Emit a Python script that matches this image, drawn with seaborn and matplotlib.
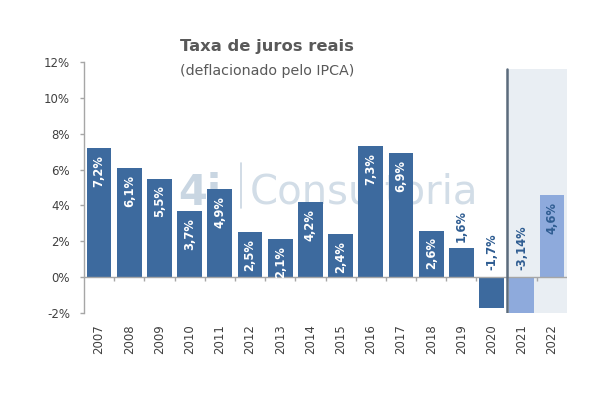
import numpy as np
import pandas as pd
import matplotlib
matplotlib.use("Agg")
import matplotlib.pyplot as plt
import seaborn as sns

years = ['2007', '2008', '2009', '2010', '2011', '2012', '2013', '2014',
         '2015', '2016', '2017', '2018', '2019', '2020', '2021', '2022']
values = [7.2, 6.1, 5.5, 3.7, 4.9, 2.5, 2.1, 4.2, 2.4, 7.3, 6.9, 2.6, 1.6, -1.7, -3.14, 4.6]
labels = ['7,2%', '6,1%', '5,5%', '3,7%', '4,9%', '2,5%', '2,1%', '4,2%', '2,4%',
          '7,3%', '6,9%', '2,6%', '1,6%', '-1,7%', '-3,14%', '4,6%']
projected = [False] * 14 + [True] * 2
yticks = [-2, 0, 2, 4, 6, 8, 10, 12]
ytick_labels = ['-2%', '0%', '2%', '4%', '6%', '8%', '10%', '12%']

sns.set_theme(style="white")
plt.rcParams['font.family'] = ['DejaVu Sans']

dark = '#3d6a9e'
light = '#8eaadc'
label_dark = '#2f5d92'
grey = '#404040'

df = pd.DataFrame({'year': years, 'value': values, 'proj': projected})
palette = [light if p else dark for p in projected]

fig = plt.figure(figsize=(6.16, 3.94), dpi=100)
ax = fig.add_axes([84 / 616, 1 - 313 / 394, (567 - 84) / 616, (313 - 62) / 394])

# projection shading and divider
ax.fill_between([13.5, 15.5], -2, 11.6, color='#e9eef3', zorder=0, linewidth=0)
ax.plot([13.5, 13.5], [-2, 11.6], color='#5b6b7c', linewidth=1.8, zorder=4)

# watermark
ax.text(178 / 616, 1 - 205 / 394, '4i', transform=fig.transFigure, fontsize=30,
        fontweight='bold', color='#c9d6e2', ha='left', va='baseline', zorder=1)
ax.plot([241 / 616, 241 / 616], [1 - 163 / 394, 1 - 208 / 394], transform=fig.transFigure,
        color='#c9d6e2', linewidth=1.2, zorder=1)
ax.text(250 / 616, 1 - 203 / 394, 'Consultoria', transform=fig.transFigure, fontsize=29,
        color='#d2dde7', ha='left', va='baseline', zorder=1)

sns.barplot(data=df, x='year', y='value', hue='year', palette=palette, legend=False,
            width=0.82, saturation=1, ax=ax, zorder=2, linewidth=0)

ax.set_xlim(-0.5, 15.5)
ax.set_ylim(-2, 12)
ax.set_yticks(yticks)
ax.set_yticklabels(ytick_labels)
ax.set_xlabel('')
ax.set_ylabel('')

ax.axhline(0, color='#a6a6a6', linewidth=1, zorder=3)
ax.vlines(np.arange(0.5, 15.5, 1), -0.22, 0, color='#a6a6a6', linewidth=1, zorder=3)

for s in ['top', 'right', 'bottom']:
    ax.spines[s].set_visible(False)
ax.spines['left'].set_color('#a6a6a6')
ax.spines['left'].set_linewidth(1)

ax.tick_params(axis='y', which='both', left=True, length=3, width=1, color='#a6a6a6',
               pad=7, labelsize=8.5, labelcolor=grey)
ax.tick_params(axis='x', which='both', bottom=False, length=0, pad=8,
               labelsize=8.5, labelcolor=grey)
plt.setp(ax.get_xticklabels(), rotation=90)

for i, (v, lab, p) in enumerate(zip(values, labels, projected)):
    if v >= 2:
        ax.annotate(lab, (i, v), xytext=(0, -5), textcoords='offset points',
                    rotation=90, ha='center', va='top', fontsize=8.3, fontweight='bold',
                    color=label_dark if p else 'white', zorder=5)
    else:
        ax.annotate(lab, (i, max(v, 0)), xytext=(0, 5), textcoords='offset points',
                    rotation=90, ha='center', va='bottom', fontsize=8.3, fontweight='bold',
                    color=label_dark, zorder=5)

fig.text(267 / 616, 1 - 47 / 394, 'Taxa de juros reais', ha='center', va='center',
         fontsize=11.8, fontweight='bold', color='#595959')
fig.text(267 / 616, 1 - 71 / 394, '(deflacionado pelo IPCA)', ha='center', va='center',
         fontsize=10.3, color='#595959')

fig.savefig('out.png', dpi=100, facecolor='white')
